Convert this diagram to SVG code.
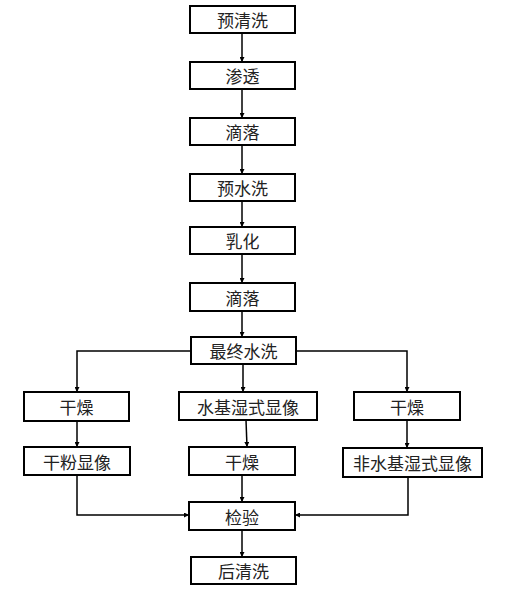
<svg xmlns="http://www.w3.org/2000/svg" width="506" height="594" viewBox="0 0 506 594">
<style>
.box{fill:#fff;stroke:#000;stroke-width:2}
.t{font-family:"Noto Sans CJK SC","Noto Sans",sans-serif;font-size:17px;fill:#222;text-anchor:middle;dominant-baseline:central}
.c{fill:none;stroke:#000;stroke-width:1.5}
</style>
<defs>
<marker id="a" viewBox="0 0 8 8" refX="8" refY="4" markerWidth="5" markerHeight="5" orient="auto" markerUnits="userSpaceOnUse"><path d="M0,0L8,4L0,8z" fill="#000"/></marker>
</defs>
<g id="connectors">
<path class="c" d="M242,33V62" marker-end="url(#a)"/>
<path class="c" d="M242,89V118" marker-end="url(#a)"/>
<path class="c" d="M242,145V174" marker-end="url(#a)"/>
<path class="c" d="M242,201V227" marker-end="url(#a)"/>
<path class="c" d="M242,254V283" marker-end="url(#a)"/>
<path class="c" d="M242,311V337" marker-end="url(#a)"/>
<path class="c" d="M191,351H77V392" marker-end="url(#a)"/>
<path class="c" d="M296,351H407V392" marker-end="url(#a)"/>
<path class="c" d="M243,364V392" marker-end="url(#a)"/>
<path class="c" d="M77,421V447" marker-end="url(#a)"/>
<path class="c" d="M246,420L247,447" marker-end="url(#a)"/>
<path class="c" d="M407,420V448" marker-end="url(#a)"/>
<path class="c" d="M77,475V515H189" marker-end="url(#a)"/>
<path class="c" d="M408,477V515H295" marker-end="url(#a)"/>
<path class="c" d="M242,475V502" marker-end="url(#a)"/>
<path class="c" d="M242,530V557" marker-end="url(#a)"/>
</g>
<g id="n1"><rect class="box" x="190" y="6" width="105" height="27"/><text class="t" x="242.5" y="19.5">预清洗</text></g>
<g id="n2"><rect class="box" x="190" y="62" width="105" height="27"/><text class="t" x="242.5" y="75.5">渗透</text></g>
<g id="n3"><rect class="box" x="190" y="118" width="105" height="27"/><text class="t" x="242.5" y="131.5">滴落</text></g>
<g id="n4"><rect class="box" x="190" y="174" width="105" height="27"/><text class="t" x="242.5" y="187.5">预水洗</text></g>
<g id="n5"><rect class="box" x="190" y="227" width="105" height="27"/><text class="t" x="242.5" y="240.5">乳化</text></g>
<g id="n6"><rect class="box" x="190" y="283" width="105" height="28"/><text class="t" x="242.5" y="297">滴落</text></g>
<g id="n7"><rect class="box" x="191" y="337" width="105" height="27"/><text class="t" x="243.5" y="350.5">最终水洗</text></g>
<g id="n8"><rect class="box" x="24" y="392" width="105" height="29"/><text class="t" x="76.5" y="406.5">干燥</text></g>
<g id="n9"><rect class="box" x="179" y="392" width="138" height="28"/><text class="t" x="248" y="406">水基湿式显像</text></g>
<g id="n10"><rect class="box" x="354" y="392" width="106" height="28"/><text class="t" x="407" y="406">干燥</text></g>
<g id="n11"><rect class="box" x="24" y="447" width="106" height="28"/><text class="t" x="77" y="461">干粉显像</text></g>
<g id="n12"><rect class="box" x="189" y="447" width="106" height="28"/><text class="t" x="242" y="461">干燥</text></g>
<g id="n13"><rect class="box" x="343" y="448" width="139" height="29"/><text class="t" x="412.5" y="462.5">非水基湿式显像</text></g>
<g id="n14"><rect class="box" x="189" y="502" width="106" height="28"/><text class="t" x="242" y="516">检验</text></g>
<g id="n15"><rect class="box" x="191" y="557" width="105" height="27"/><text class="t" x="243.5" y="570.5">后清洗</text></g>
</svg>
